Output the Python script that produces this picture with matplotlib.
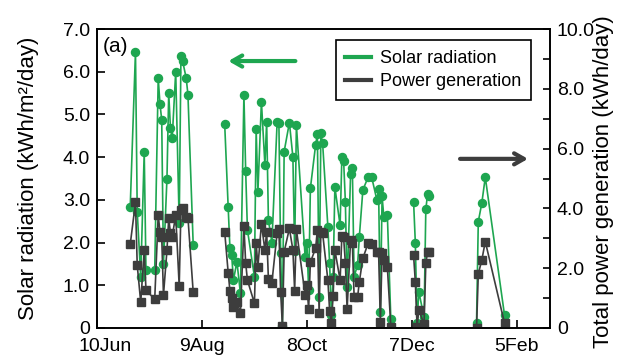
import numpy as np
import matplotlib
matplotlib.use("Agg")
import matplotlib.pyplot as plt
import matplotlib.transforms as mtransforms

plt.rcParams['font.family'] = ['Liberation Sans', 'DejaVu Sans']

nan = np.nan
# days counted from 10 Jun; NaN rows break the line between measurement periods
days = [19, 22, 23, 25, 27, 28, 33, 35, 36, 37, 38, 40, 41, 42, 43, 45, 47, 48, 49, 51, 52, 55,
        60,
        73, 75, 76, 77, 78, 80, 82, 84, 85, 86, 90, 91, 92, 94, 96, 97, 98, 100, 103, 104, 105,
        106, 107, 110, 112, 113, 114, 119, 120, 121, 122, 125, 126, 127, 128, 129, 132, 133, 134,
        135, 136, 139, 140, 141, 142, 143, 145, 146, 147, 149, 150, 152, 155, 157, 160, 161, 162,
        163, 164, 166, 168,
        175,
        181, 182, 183, 184, 187, 188, 189, 190,
        200,
        217, 218, 220, 222, 233]

solar = [2.84, 6.47, 2.72, 1.20, 4.12, 1.36, 1.36, 5.85, 5.25, 4.87, 1.50, 3.50, 5.50, 4.68, 4.44,
         6.00, 2.45, 6.37, 6.24, 5.85, 5.46, 1.95,
         nan,
         4.78, 2.83, 1.87, 1.71, 1.12, 1.55, 0.81, 5.46, 3.68, 2.30, 1.20, 4.65, 3.19, 5.30, 3.82,
         4.83, 2.53, 2.00, 4.83, 4.79, 1.75, 0.05, 4.13, 4.81, 4.00, 1.80, 4.75, 1.67, 2.00, 0.90,
         3.27, 4.29, 4.54, 0.73, 4.56, 4.32, 2.37, 1.52, 0.30, 1.20, 3.30, 2.40, 4.00, 3.92, 2.96,
         0.97, 3.61, 3.74, 1.20, 1.48, 2.14, 3.23, 3.53, 3.54, 3.00, 3.25, 0.38, 3.08, 2.60, 2.65,
         0.20,
         nan,
         2.96, 2.00, 0.12, 0.85, 0.25, 2.78, 3.13, 3.08,
         nan,
         0.12, 2.49, 2.92, 3.53, 0.30]

power = [2.80, 4.20, 2.10, 0.86, 2.60, 1.27, 0.96, 3.78, 3.22, 3.05, 1.10, 2.60, 3.67, 3.17, 3.05,
         3.78, 1.40, 3.95, 4.00, 3.72, 3.69, 1.20,
         nan,
         3.22, 1.85, 1.25, 0.99, 0.71, 0.88, 0.49, 3.41, 2.18, 1.60, 0.83, 2.85, 2.05, 3.48, 2.61,
         3.22, 1.63, 1.52, 3.19, 3.30, 1.21, 0.07, 2.55, 3.33, 2.61, 1.25, 3.30, 1.10, 1.44, 0.63,
         2.20, 2.67, 3.28, 0.51, 3.22, 3.17, 1.60, 0.58, 0.18, 1.07, 2.61, 1.60, 3.08, 3.03, 2.18,
         0.63, 2.94, 2.83, 1.05, 1.03, 1.55, 2.33, 2.83, 2.81, 2.55, 2.55, 0.21, 2.52, 2.27, 2.05,
         0.05,
         nan,
         2.44, 1.55, 0.04, 0.60, 0.13, 2.16, 2.55, 2.55,
         nan,
         0.00, 1.81, 2.27, 2.89, 0.16]

xtick_pos = [0, 60, 120, 180, 240]
xtick_labels = ['10Jun', '9Aug', '8Oct', '7Dec', '5Feb']
left_ticks = [0, 1, 2, 3, 4, 5, 6, 7]
left_labels = ['0', '1.0', '2.0', '3.0', '4.0', '5.0', '6.0', '7.0']
right_ticks = [0, 2, 4, 6, 8, 10]
right_labels = ['0', '2.0', '4.0', '6.0', '8.0', '10.0']

GREEN = '#1ea650'
DARK = '#3d3d3d'

fig = plt.figure(figsize=(6.23, 3.64), dpi=100)
ax = fig.add_axes([97/623, 36/364, 453/623, 299/364])
ax2 = ax.twinx()

l1, = ax.plot(days, solar, color=GREEN, lw=1.2, marker='o', ms=5.8, mec=GREEN, mfc=GREEN,
              label='Solar radiation')
l2, = ax2.plot(days, power, color=DARK, lw=1.2, marker='s', ms=5.4, mec=DARK, mfc=DARK,
               label='Power generation')

ax.set_xlim(0, 259)
ax.set_ylim(0, 7)
ax2.set_ylim(0, 10)

ax.set_xticks(xtick_pos)
ax.set_xticklabels(xtick_labels)
ax.set_yticks(left_ticks)
ax.set_yticklabels(left_labels)
ax2.set_yticks(right_ticks)
ax2.set_yticklabels(right_labels)
ax2.set_yticks([1, 3, 5, 7, 9], minor=True)

ax.tick_params(axis='both', direction='in', length=6, width=1.2, labelsize=14, pad=5)
ax.tick_params(axis='x', pad=7)
ax.tick_params(top=False, right=False)
ax2.tick_params(axis='y', which='both', direction='in', length=5, width=1.2, labelsize=14, pad=5)

# first date label sits slightly right of its tick, as in the reference
first = ax.get_xticklabels()[0]
first.set_transform(first.get_transform() + mtransforms.ScaledTranslation(8/100, 0, fig.dpi_scale_trans))

for a in (ax, ax2):
    for s in a.spines.values():
        s.set_linewidth(1.2)
        s.set_color('black')

ax.set_ylabel('Solar radiation (kWh/m\u00b2/day)', fontsize=16)
ax.yaxis.set_label_coords(-0.128, 0.5)
ax2.set_ylabel('Total power generation (kWh/day)', fontsize=16)
ax2.yaxis.set_label_coords(1.095, 0.49)

ax.text(0.012, 0.94, '(a)', transform=ax.transAxes, fontsize=15, ha='left', va='center')

# arrows indicating the axis of each series
ax.annotate('', xy=(73.5, 6.25), xytext=(115, 6.25),
            arrowprops=dict(arrowstyle='->, head_length=0.7, head_width=0.4', color=GREEN, lw=3))
ax.annotate('', xy=(248, 3.96), xytext=(206, 3.96),
            arrowprops=dict(arrowstyle='->, head_length=0.7, head_width=0.4', color=DARK, lw=3))

leg_l1 = plt.Line2D([], [], color=GREEN, lw=3)
leg_l2 = plt.Line2D([], [], color=DARK, lw=3)
leg = ax2.legend([leg_l1, leg_l2], ['Solar radiation', 'Power generation'],
                 loc='upper right', bbox_to_anchor=(0.958, 0.963), fontsize=13,
                 frameon=True, fancybox=False, edgecolor='black', framealpha=1,
                 handlelength=1.4, handletextpad=0.5, borderpad=0.55, labelspacing=0.35,
                 borderaxespad=0)
leg.get_frame().set_linewidth(1.2)

fig.savefig('out.png', dpi=100)
